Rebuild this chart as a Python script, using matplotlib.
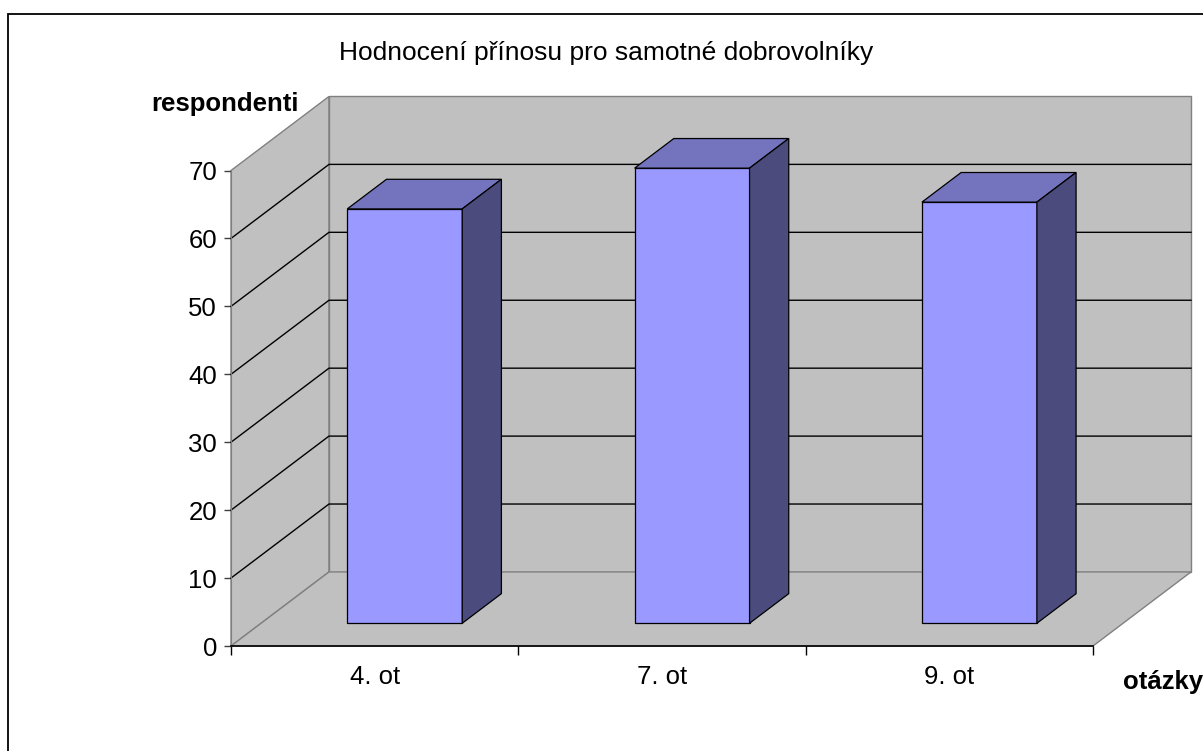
import matplotlib
matplotlib.use("Agg")
import matplotlib.pyplot as plt
from matplotlib.patches import Rectangle

plt.rcParams['font.family'] = ['Liberation Sans', 'DejaVu Sans']

# data
categories = ["4. ot", "7. ot", "9. ot"]
values = [61, 67, 62]
y_ticks = [0, 10, 20, 30, 40, 50, 60, 70]
title = "Hodnocení přínosu pro samotné dobrovolníky"
y_label = "respondenti"
x_label = "otázky"

# oblique depth offset of the whole plot box, in data units (x, y)
DX, DY = 0.341, 10.9
YMAX = 70
NCAT = len(categories)

WALL = "#c0c0c0"
EDGE = "#808080"
FRONT, TOP, SIDE = "#9999ff", "#7373be", "#4b4b7d"

fig = plt.figure(figsize=(12.03, 7.51), dpi=100)
ax = fig.add_axes([231/1203, 1 - 646/751, 862/1203, 475.5/751])
ax.set_xlim(0, NCAT)
ax.set_ylim(0, YMAX)
ax.patch.set_visible(False)


def poly(pts, fc, ec, lw, z):
    xs = [p[0] for p in pts]
    ys = [p[1] for p in pts]
    ax.fill(xs, ys, facecolor=fc, edgecolor=ec, linewidth=lw, zorder=z,
            clip_on=False, joinstyle='miter')


# walls and floor
poly([(0, 0), (0, YMAX), (DX, YMAX + DY), (DX, DY)], WALL, EDGE, 1.0, 1)
poly([(DX, DY), (NCAT + DX, DY), (NCAT + DX, YMAX + DY), (DX, YMAX + DY)], WALL, EDGE, 1.0, 1)
poly([(0, 0), (NCAT, 0), (NCAT + DX, DY), (DX, DY)], WALL, EDGE, 1.0, 1)

# gridlines on left and back wall
for t in y_ticks[1:-1]:
    ax.plot([0, DX, NCAT + DX], [t, t + DY, t + DY], color="black",
            linewidth=1.0, zorder=2, clip_on=False)

# bars
width = 0.4
d0, d1 = 0.307, 0.707
for i, v in enumerate(values):
    x0 = i + 0.5 - width / 2 + d0 * DX
    x1 = x0 + width
    y0 = d0 * DY
    ox, oy = (d1 - d0) * DX, (d1 - d0) * DY
    poly([(x0, y0), (x1, y0), (x1, y0 + v), (x0, y0 + v)], FRONT, "black", 0.9, 5)
    poly([(x0, y0 + v), (x1, y0 + v), (x1 + ox, y0 + v + oy), (x0 + ox, y0 + v + oy)],
         TOP, "black", 0.9, 5)
    poly([(x1, y0), (x1 + ox, y0 + oy), (x1 + ox, y0 + v + oy), (x1, y0 + v)],
         SIDE, "black", 0.9, 5)

# axes
for s in ["top", "right"]:
    ax.spines[s].set_visible(False)
ax.spines["left"].set_color(EDGE)
ax.spines["left"].set_zorder(3)
ax.spines["bottom"].set_color("black")
ax.spines["bottom"].set_linewidth(1.2)
ax.spines["bottom"].set_zorder(3)

ax.set_yticks(y_ticks)
ax.set_yticklabels([str(t) for t in y_ticks])
ax.tick_params(axis="y", direction="out", length=5, width=1, color="#404040",
               pad=5, labelsize=18.5)
ax.set_xticks(range(NCAT + 1))
ax.set_xticklabels([""] * (NCAT + 1))
ax.set_xticks([i + 0.5 for i in range(NCAT)], minor=True)
ax.set_xticklabels(categories, minor=True)
ax.tick_params(axis="x", which="major", direction="out", length=6.5, width=1,
               color="black")
ax.tick_params(axis="x", which="minor", length=0, pad=14, labelsize=18.5)

fig.text(606.5/1203, 1 - 60/751, title, ha="center", va="baseline", fontsize=19)
fig.text(151/1203, 1 - 111/751, y_label, ha="left", va="baseline",
         fontsize=18.5, fontweight="bold")
fig.text(1123/1203, 1 - 689/751, x_label, ha="left", va="baseline",
         fontsize=18.5, fontweight="bold")

# outer frame
fig.patches.append(Rectangle((8/1203, -0.1), 1.2, 1 - 14/751 + 0.1,
                             transform=fig.transFigure, fill=False,
                             edgecolor="black", linewidth=1.3))

fig.savefig("out.png", dpi=100)
